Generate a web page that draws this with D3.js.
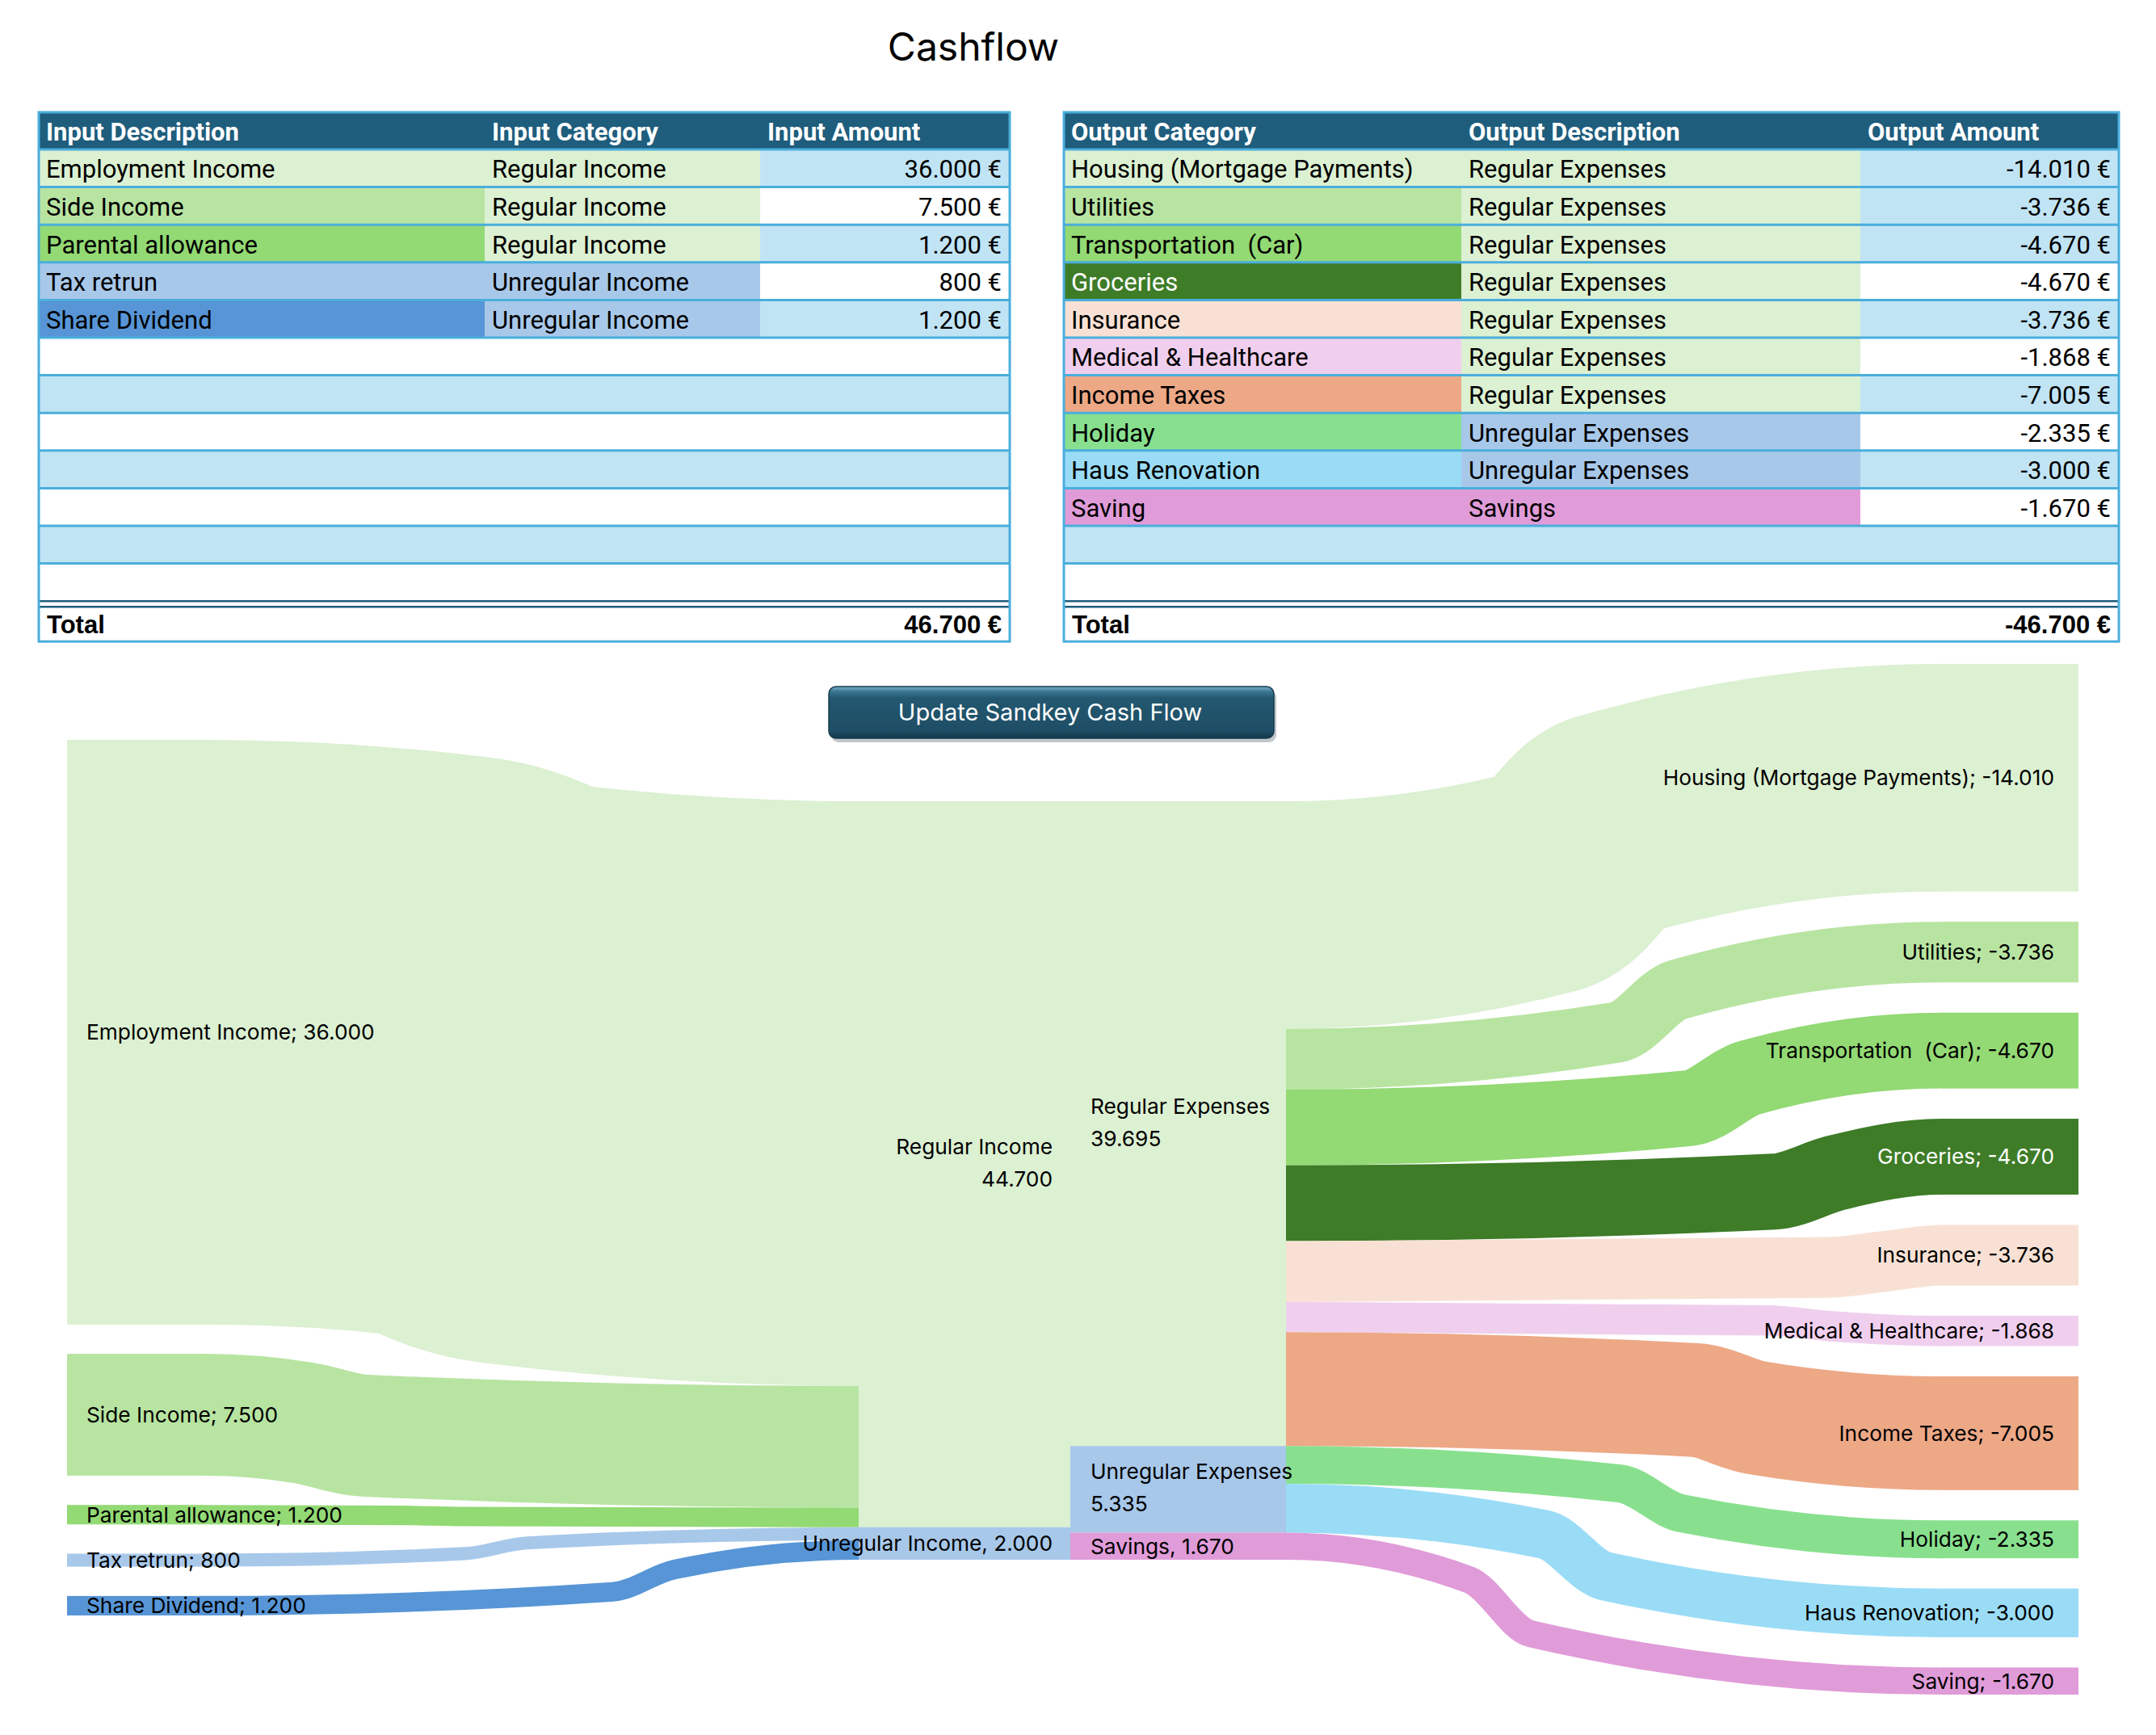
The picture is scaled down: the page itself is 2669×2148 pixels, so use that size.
<!DOCTYPE html>
<html><head><meta charset="utf-8">
<script src="https://cdn.jsdelivr.net/npm/d3@7"></script>
<style>html,body{margin:0;padding:0;background:#fff;} svg{display:block;} text{white-space:pre;}</style>
</head><body>
<svg id="chart" width="2669" height="2148"></svg>
<script>
// ---------------- DATA ----------------
const chartTitle = "Cashflow";
const buttonLabel = "Update Sandkey Cash Flow";
const inputHeaders = ["Input Description", "Input Category", "Input Amount"];
const outputHeaders = ["Output Category", "Output Description", "Output Amount"];
const inputDescriptions = ["Employment Income", "Side Income", "Parental allowance", "Tax retrun", "Share Dividend"];
const inputCategories = ["Regular Income", "Regular Income", "Regular Income", "Unregular Income", "Unregular Income"];
const inputAmounts = [36000, 7500, 1200, 800, 1200];
const outputCategories = ["Housing (Mortgage Payments)", "Utilities", "Transportation  (Car)", "Groceries", "Insurance",
  "Medical & Healthcare", "Income Taxes", "Holiday", "Haus Renovation", "Saving"];
const outputDescriptions = ["Regular Expenses", "Regular Expenses", "Regular Expenses", "Regular Expenses", "Regular Expenses",
  "Regular Expenses", "Regular Expenses", "Unregular Expenses", "Unregular Expenses", "Savings"];
const outputAmounts = [-14010, -3736, -4670, -4670, -3736, -1868, -7005, -2335, -3000, -1670];
const totalLabel = "Total";

// ---------------- STYLES ----------------
const inputColors = ["#DCF0D2", "#B8E4A2", "#93D974", "#A8C8EA", "#5795D6"];
const outputColors = ["#DCF0D2", "#B8E4A2", "#93D974", "#3E7C28", "#F8E1D4", "#F0CFEE", "#EDA886", "#88E08E", "#9ADCF6", "#E09CD8"];
const groupColors = {"Regular Income": "#DCF0D2", "Unregular Income": "#A8C8EA",
  "Regular Expenses": "#DCF0D2", "Unregular Expenses": "#A8C8EA", "Savings": "#E09CD8"};
const outputAmountBand = [1, 1, 1, 0, 1, 0, 1, 0, 1, 0, 1, 0];
// horizontal position (fraction of link length) of each link's S-bend
const leftLinkBend = [0.43, 0.2, 0.35, 0.447, 0.672];
const rightLinkBend = [0.445, 0.55, 0.66, 0.79, 0.87, 0.78, 0.67, 0.555, 0.44, 0.326];
const HEADER_BG = "#1F5D7D", BORDER = "#4AAEDC", BAND = "#C1E4F5";
const SANS = "Inter, 'Open Sans', Roboto, sans-serif";
const TABLE_FONT = "Roboto, 'Liberation Sans', sans-serif";
const BOLD_FONT = "'Liberation Sans', Arial, sans-serif";

// ---------------- HELPERS ----------------
const de = d3.formatLocale({decimal: ",", thousands: ".", grouping: [3], currency: ["", " €"], minus: "-"});
const fmtNum = de.format(",.0f");
const fmtEur = v => fmtNum(v) + " €";
const textOn = c => d3.hsl(c).l < 0.4 ? "#FFFFFF" : "#000000";

const svg = d3.select("#chart");
svg.append("rect").attr("width", 2669).attr("height", 2148).attr("fill", "#fff");

svg.append("text").attr("x", 1205).attr("y", 75).attr("text-anchor", "middle")
  .attr("font-family", SANS).attr("font-size", 48).attr("fill", "#000").text(chartTitle);

// ---------------- TABLES ----------------
function drawTable(cols, headers, rows, totalValue) {
  const g = svg.append("g");
  const top = 139, headH = 46, rowH = 46.6;
  const left = cols[0], right = cols[cols.length - 1];
  const rowsEnd = top + headH + rows.length * rowH;
  g.append("rect").attr("x", left).attr("y", top).attr("width", right - left).attr("height", headH).attr("fill", HEADER_BG);
  headers.forEach((h, i) => {
    g.append("text").attr("x", cols[i] + 9).attr("y", top + headH / 2 + 1).attr("dy", "0.36em")
      .attr("font-family", TABLE_FONT).attr("font-weight", 700).attr("font-size", 31).attr("fill", "#fff").text(h);
  });
  rows.forEach((r, ri) => {
    const y = top + headH + ri * rowH;
    r.forEach((c, ci) => {
      const x0 = cols[ci], x1 = c.span ? right : cols[ci + 1];
      g.append("rect").attr("x", x0).attr("y", y).attr("width", x1 - x0).attr("height", rowH).attr("fill", c.fill);
      if (c.text != null) {
        g.append("text").attr("x", c.align === "end" ? x1 - 10 : x0 + 9).attr("y", y + rowH / 2 + 1).attr("dy", "0.36em")
          .attr("text-anchor", c.align || "start").attr("font-family", TABLE_FONT).attr("font-size", 31)
          .attr("fill", textOn(c.fill)).text(c.text);
      }
    });
  });
  for (let i = 0; i < rows.length; i++) {
    const y = top + headH + i * rowH;
    g.append("line").attr("x1", left).attr("x2", right).attr("y1", y).attr("y2", y).attr("stroke", BORDER).attr("stroke-width", 3);
  }
  g.append("rect").attr("x", left).attr("y", rowsEnd + 1).attr("width", right - left).attr("height", 48).attr("fill", "#fff");
  [rowsEnd, rowsEnd + 7].forEach(y => g.append("line").attr("x1", left).attr("x2", right).attr("y1", y).attr("y2", y)
    .attr("stroke", HEADER_BG).attr("stroke-width", 2.5));
  const ty = rowsEnd + 8 + 21;
  g.append("text").attr("x", left + 10).attr("y", ty).attr("dy", "0.36em").attr("font-family", BOLD_FONT)
    .attr("font-weight", 700).attr("font-size", 31).text(totalLabel);
  g.append("text").attr("x", right - 10).attr("y", ty).attr("dy", "0.36em").attr("text-anchor", "end")
    .attr("font-family", BOLD_FONT).attr("font-weight", 700).attr("font-size", 31).text(fmtEur(totalValue));
  g.append("rect").attr("x", left).attr("y", top).attr("width", right - left).attr("height", rowsEnd + 50 - top)
    .attr("fill", "none").attr("stroke", BORDER).attr("stroke-width", 3);
}

const nRows = 12;
const leftRows = d3.range(nRows).map(i => {
  const band = i % 2 === 0 ? BAND : "#FFFFFF";
  if (i < inputDescriptions.length) return [
    {text: inputDescriptions[i], fill: inputColors[i]},
    {text: inputCategories[i], fill: groupColors[inputCategories[i]]},
    {text: fmtEur(inputAmounts[i]), fill: band, align: "end"}];
  return [{text: null, fill: band, span: true}];
});
drawTable([48, 600, 941, 1250], inputHeaders, leftRows, d3.sum(inputAmounts));

const rightRows = d3.range(nRows).map(i => {
  const band = outputAmountBand[i] ? BAND : "#FFFFFF";
  if (i < outputCategories.length) return [
    {text: outputCategories[i], fill: outputColors[i]},
    {text: outputDescriptions[i], fill: groupColors[outputDescriptions[i]]},
    {text: fmtEur(outputAmounts[i]), fill: band, align: "end"}];
  return [{text: null, fill: band, span: true}];
});
drawTable([1317, 1809, 2303, 2623], outputHeaders, rightRows, d3.sum(outputAmounts));

// ---------------- BUTTON ----------------
const defs = svg.append("defs");
const bg = defs.append("linearGradient").attr("id", "btn").attr("x1", 0).attr("y1", 0).attr("x2", 0).attr("y2", 1);
[["0", "#7AAFC6"], ["0.1", "#3A7690"], ["0.22", "#235870"], ["0.85", "#1E4E65"], ["1", "#12394B"]]
  .forEach(([o, c]) => bg.append("stop").attr("offset", o).attr("stop-color", c));
svg.append("rect").attr("x", 1029).attr("y", 855).attr("width", 551).attr("height", 64).attr("rx", 9).attr("fill", "#8e989e").attr("opacity", 0.55);
svg.append("rect").attr("x", 1026).attr("y", 850).attr("width", 551).attr("height", 64).attr("rx", 9)
  .attr("fill", "url(#btn)").attr("stroke", "#163C4E").attr("stroke-width", 1.5);
svg.append("text").attr("x", 1300).attr("y", 882).attr("dy", "0.36em").attr("text-anchor", "middle")
  .attr("font-family", SANS).attr("font-size", 29).attr("fill", "#fff").text(buttonLabel);

// ---------------- SANKEY ----------------
const total = d3.sum(inputAmounts);
const hScale = d3.scaleLinear().domain([0, total]).range([0, 939]);
const colX = [[83, 251], [1063, 1325], [1325, 1592], [2405, 2573]];

function stack(values, top, bottom) {
  const sum = d3.sum(values, v => hScale(v));
  const gap = values.length > 1 && bottom != null ? (bottom - top - sum) / (values.length - 1) : 0;
  let y = top;
  return values.map(v => { const h = hScale(v); const r = {y0: y, y1: y + h}; y += h + gap; return r; });
}

const col0 = stack(inputAmounts, 916, 2000).map((p, i) => ({...p, name: inputDescriptions[i], value: inputAmounts[i], color: inputColors[i]}));
const incGroups = Array.from(new Set(inputCategories));
const incVals = incGroups.map(g => d3.sum(inputAmounts.filter((v, i) => inputCategories[i] === g)));
const col1 = stack(incVals, 992).map((p, i) => ({...p, name: incGroups[i], value: incVals[i], color: groupColors[incGroups[i]]}));
const expGroups = Array.from(new Set(outputDescriptions));
const expVals = expGroups.map(g => d3.sum(outputAmounts.filter((v, i) => outputDescriptions[i] === g), v => Math.abs(v)));
const col2 = stack(expVals, 992).map((p, i) => ({...p, name: expGroups[i], value: expVals[i], color: groupColors[expGroups[i]]}));
const col3 = stack(outputAmounts.map(Math.abs), 822, 2098).map((p, i) => ({...p, name: outputCategories[i], value: outputAmounts[i], color: outputColors[i]}));

// link centre line: horizontal ends, gentle run-in, S-step around the bend, gentle run-out
const linkLine = d3.line().curve(d3.curveMonotoneX);
function linkPath(d) {
  const L = d.x1 - d.x0, dy = d.y1 - d.y0;
  const xc = d.x0 + L * d.bend;
  const w = Math.min(38, (xc - d.x0) * 0.7, (d.x1 - xc) * 0.7);
  return linkLine([[d.x0 - 2, d.y0], [d.x0 + 2, d.y0], [xc - w, d.y0 + 0.25 * dy], [xc + w, d.y0 + 0.65 * dy],
    [d.x1 - 2, d.y1], [d.x1 + 2, d.y1]]);
}
const links = [];
const inOffset = {};
inputAmounts.forEach((v, i) => {
  const gi = incGroups.indexOf(inputCategories[i]);
  const off = inOffset[gi] || 0;
  const h = hScale(v);
  const s = col0[i];
  links.push({x0: colX[0][1], y0: (s.y0 + s.y1) / 2, x1: colX[1][0], y1: col1[gi].y0 + off + h / 2, w: h, color: inputColors[i], bend: leftLinkBend[i]});
  inOffset[gi] = off + h;
});
const outOffset = {};
outputAmounts.forEach((v, j) => {
  const gi = expGroups.indexOf(outputDescriptions[j]);
  const off = outOffset[gi] || 0;
  const h = hScale(Math.abs(v));
  const t = col3[j];
  links.push({x0: colX[2][1], y0: col2[gi].y0 + off + h / 2, x1: colX[3][0], y1: (t.y0 + t.y1) / 2, w: h, color: outputColors[j], bend: rightLinkBend[j]});
  outOffset[gi] = off + h;
});

svg.append("g").attr("fill", "none").selectAll("path").data(links).join("path")
  .attr("d", linkPath)
  .attr("stroke", d => d.color).attr("stroke-width", d => d.w).attr("stroke-linecap", "butt").attr("stroke-linejoin", "round");

const allNodes = [
  ...col0.map(n => ({...n, col: 0})), ...col1.map(n => ({...n, col: 1})),
  ...col2.map(n => ({...n, col: 2})), ...col3.map(n => ({...n, col: 3}))];
svg.append("g").selectAll("rect").data(allNodes).join("rect")
  .attr("x", d => colX[d.col][0]).attr("y", d => d.y0)
  .attr("width", d => colX[d.col][1] - colX[d.col][0]).attr("height", d => d.y1 - d.y0)
  .attr("fill", d => d.color);

const gLab = svg.append("g").attr("font-family", SANS).attr("font-size", 26.3);
allNodes.forEach(d => {
  const cy = (d.y0 + d.y1) / 2;
  const fill = textOn(d.color);
  if (d.col === 0 || d.col === 3) {
    gLab.append("text").attr("x", d.col === 0 ? 107 : 2543).attr("y", cy).attr("dy", "0.36em")
      .attr("text-anchor", d.col === 0 ? "start" : "end").attr("fill", fill)
      .text(`${d.name}; ${fmtNum(d.value)}`);
  } else {
    const x = d.col === 1 ? 1303 : 1350, anchor = d.col === 1 ? "end" : "start";
    if (d.y1 - d.y0 < 60) {
      gLab.append("text").attr("x", x).attr("y", cy).attr("dy", "0.36em").attr("text-anchor", anchor).attr("fill", fill)
        .text(`${d.name}, ${fmtNum(d.value)}`);
    } else {
      [d.name, fmtNum(d.value)].forEach((t, k) => {
        gLab.append("text").attr("x", x).attr("y", cy - 2 + (k - 0.5) * 40).attr("dy", "0.36em")
          .attr("text-anchor", anchor).attr("fill", fill).text(t);
      });
    }
  }
});
</script>
</body></html>
